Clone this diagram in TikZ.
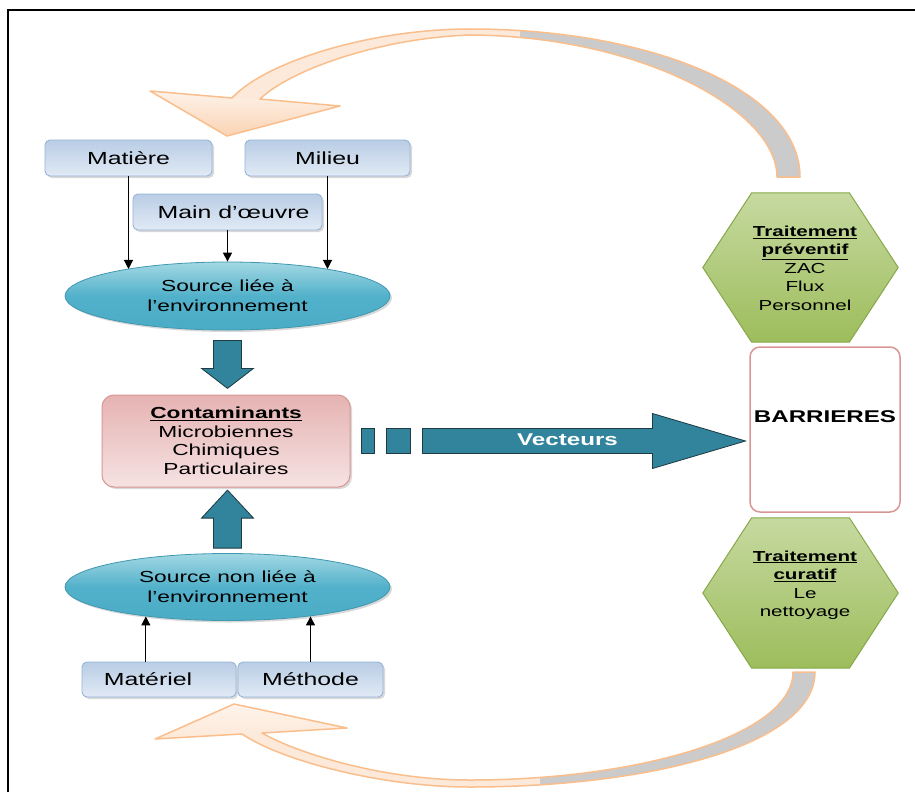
\documentclass[tikz,border=0pt]{standalone}
\usepackage{fontspec}
\setmainfont{Liberation Sans}[FakeStretch=1.42]
\usetikzlibrary{shapes.geometric,arrows.meta,calc,shadows}
\definecolor{bluebd}{HTML}{95B3D7}
\definecolor{bluetop}{HTML}{B9CDE5}
\definecolor{bluebot}{HTML}{E1EAF5}
\definecolor{tealtop}{HTML}{A3D8E4}
\definecolor{tealmid}{HTML}{52B1CA}
\definecolor{tealbot}{HTML}{4BACC6}
\definecolor{tealbd}{HTML}{3F97B0}
\definecolor{pinktop}{HTML}{E5B3B2}
\definecolor{pinkbot}{HTML}{F6E2E2}
\definecolor{pinkbd}{HTML}{D99694}
\definecolor{greentop}{HTML}{C6D9A0}
\definecolor{greenbot}{HTML}{9DBD5C}
\definecolor{greenbd}{HTML}{86A84A}
\definecolor{arrowfill}{HTML}{31849B}
\definecolor{arrowbd}{HTML}{1E3A43}
\definecolor{peach}{HTML}{FDE9D9}
\definecolor{peachlt}{HTML}{FEF3EA}
\definecolor{peachdk}{HTML}{FAD3B3}
\definecolor{ribbd}{HTML}{F9BE8C}
\definecolor{ribgray}{HTML}{CBCBCB}
\newcommand\toprib{(232,98) .. controls (265,62) and (370,29) .. (470,29) .. controls (650,29) and (800,90) .. (800,177) -- (777,177) .. controls (777,110) and (640,36) .. (470,35) .. controls (380,38) and (290,70) .. (260,99) -- (340,106) -- (227,136) -- (150,91) -- cycle}
\newcommand\botrib{(242,734) .. controls (280,760) and (380,787) .. (470,787) .. controls (650,787) and (815,745) .. (815,672) -- (793,672) .. controls (793,735) and (640,780) .. (470,780) .. controls (380,780) and (295,752) .. (262,733) -- (347,728) -- (234,704) -- (155,739) -- cycle}
\begin{document}
\begin{tikzpicture}[x=1pt,y=-1pt,
  shad/.style={drop shadow={shadow xshift=2pt,shadow yshift=-2pt,opacity=0.25,fill=black!60}},
  bluebox/.style={rectangle,rounded corners=5pt,draw=bluebd,line width=0.9pt,top color=bluetop,bottom color=bluebot,minimum height=36pt,inner sep=0pt,font=\fontsize{17.5}{20}\selectfont,shad},
  srcell/.style={ellipse,draw=tealbd,line width=0.8pt,top color=tealtop,bottom color=tealbot,middle color=tealmid,minimum width=325pt,minimum height=68pt,inner sep=0pt,align=center,font=\fontsize{16}{20}\selectfont,shad},
  contbox/.style={rectangle,rounded corners=12pt,draw=pinkbd,line width=1pt,top color=pinktop,bottom color=pinkbot,minimum width=248pt,minimum height=92pt,inner sep=0pt,align=center,font=\fontsize{16}{18.5}\selectfont,shad},
  hexbox/.style={rectangle,minimum width=195pt,minimum height=149pt,inner sep=0pt},
  hexfill/.style={top color=greentop,bottom color=greenbot,draw=greenbd,line width=1pt},
  hextext/.style={align=center,inner sep=0pt,font=\fontsize{14.5}{18.5}\selectfont},
  blockarrow/.style={fill=arrowfill,draw=arrowbd,line width=0.8pt},
  thinarr/.style={-{Triangle[length=9pt,width=9pt]},line width=1.2pt,black},
  ribline/.style={draw=ribbd,line width=1.5pt,line join=round}]
\useasboundingbox (0,0) rectangle (915,792);
% frame
\draw[line width=1.3pt] (8,792) -- (8,10) -- (915,10);
% curved ribbon arrows
\fill[peach] \toprib;
\begin{scope}\clip (520,0) rectangle (915,400); \fill[ribgray] \toprib; \end{scope}
\shade[top color=peachlt,bottom color=peachdk] (150,91) -- (340,106) -- (227,136) -- cycle;
\draw[ribline] \toprib;
\fill[peach] \botrib;
\begin{scope}\clip (540,600) rectangle (915,792); \fill[ribgray] \botrib; \end{scope}
\shade[top color=peachlt,bottom color=peach] (155,739) -- (347,728) -- (234,704) -- cycle;
\draw[ribline] \botrib;
% boxes
\node[bluebox,minimum width=167pt] (matiere) at (128.5,158) {Matière};
\node[bluebox,minimum width=165pt] (milieu) at (327.5,158) {Milieu};
\node[bluebox,minimum width=189pt] (main) at (227.5,212) {\hspace*{12pt}Main d’œuvre};
\node[srcell] (src1) at (227.5,296) {Source liée à\\l’environnement};
\node[contbox] (cont) at (226,441) {\textbf{\underline{Contaminants}}\\Microbiennes\\Chimiques\\Particulaires};
\node[srcell,minimum height=67pt] (src2) at (227.5,587) {Source non liée à\\l’environnement};
\node[bluebox,minimum width=154pt,minimum height=35pt] (materiel) at (159,679.5) {\hspace*{-22pt}Matériel};
\node[bluebox,minimum width=145pt,minimum height=35pt] (methode) at (310.5,679.5) {Méthode};
% thin arrows
\draw[thinarr] (matiere.south) -- (matiere.south |- src1.165);
\draw[thinarr] (main.south) -- (src1.north);
\draw[thinarr] (milieu.south) -- (milieu.south |- src1.15);
\coordinate (mt) at ($(materiel.north west)!0.415!(materiel.north east)$);
\draw[thinarr] (mt) -- (mt |- src2.200);
\draw[thinarr] (methode.north) -- (methode.north |- src2.340);
% block arrows
\draw[blockarrow] ($(src1.south)+(-14,10)$) -- ++(28,0) -- ++(0,28) -- ++(12,0) -- ++(-26,20) -- ++(-26,-20) -- ++(12,0) -- cycle;
\draw[blockarrow] ($(src2.north)+(-14,-5)$) -- ++(28,0) -- ++(0,-30) -- ++(12,0) -- ++(-26,-28) -- ++(-26,28) -- ++(12,0) -- cycle;
\draw[blockarrow] ($(cont.east)+(11,-13)$) rectangle ++(13,25);
\draw[blockarrow] ($(cont.east)+(36,-13)$) rectangle ++(24,25);
\draw[blockarrow] ($(cont.east)+(72,-12.5)$) -- ++(230,0) -- ++(0,-15) -- ++(93,27.5) -- ++(-93,27.5) -- ++(0,-15) -- ++(-230,0) -- cycle;
\node[text=white,font=\fontsize{17}{20}\selectfont\bfseries] (vect) at ($(cont.east)+(217,-1)$) {Vecteurs};
% barrieres
\node[rectangle,rounded corners=10pt,draw=pinkbd,line width=1.5pt,fill=white,minimum width=150pt,minimum height=165pt] (barr) at (825,429.5) {};
\node[font=\fontsize{17}{20}\selectfont\bfseries] (barrtxt) at ($(barr.center)+(0,-13)$) {BARRIERES};
% hexagons
\node[hexbox] (hex1) at (800.5,267.5) {};
\shade[hexfill] (hex1.west) -- ($(hex1.north west)!0.25!(hex1.north east)$) -- ($(hex1.north west)!0.75!(hex1.north east)$) -- (hex1.east) -- ($(hex1.south west)!0.75!(hex1.south east)$) -- ($(hex1.south west)!0.25!(hex1.south east)$) -- cycle;
\node[hextext] (hex1t) at (805,268) {\textbf{\underline{Traitement}}\\\textbf{\underline{préventif}}\\ZAC\\Flux\\Personnel};
\node[hexbox,minimum height=150pt] (hex2) at (800.5,593) {};
\shade[hexfill] (hex2.west) -- ($(hex2.north west)!0.25!(hex2.north east)$) -- ($(hex2.north west)!0.75!(hex2.north east)$) -- (hex2.east) -- ($(hex2.south west)!0.75!(hex2.south east)$) -- ($(hex2.south west)!0.25!(hex2.south east)$) -- cycle;
\node[hextext] (hex2t) at (805,585) {\textbf{\underline{Traitement}}\\\textbf{\underline{curatif}}\\Le\\nettoyage};
\end{tikzpicture}
\end{document}
